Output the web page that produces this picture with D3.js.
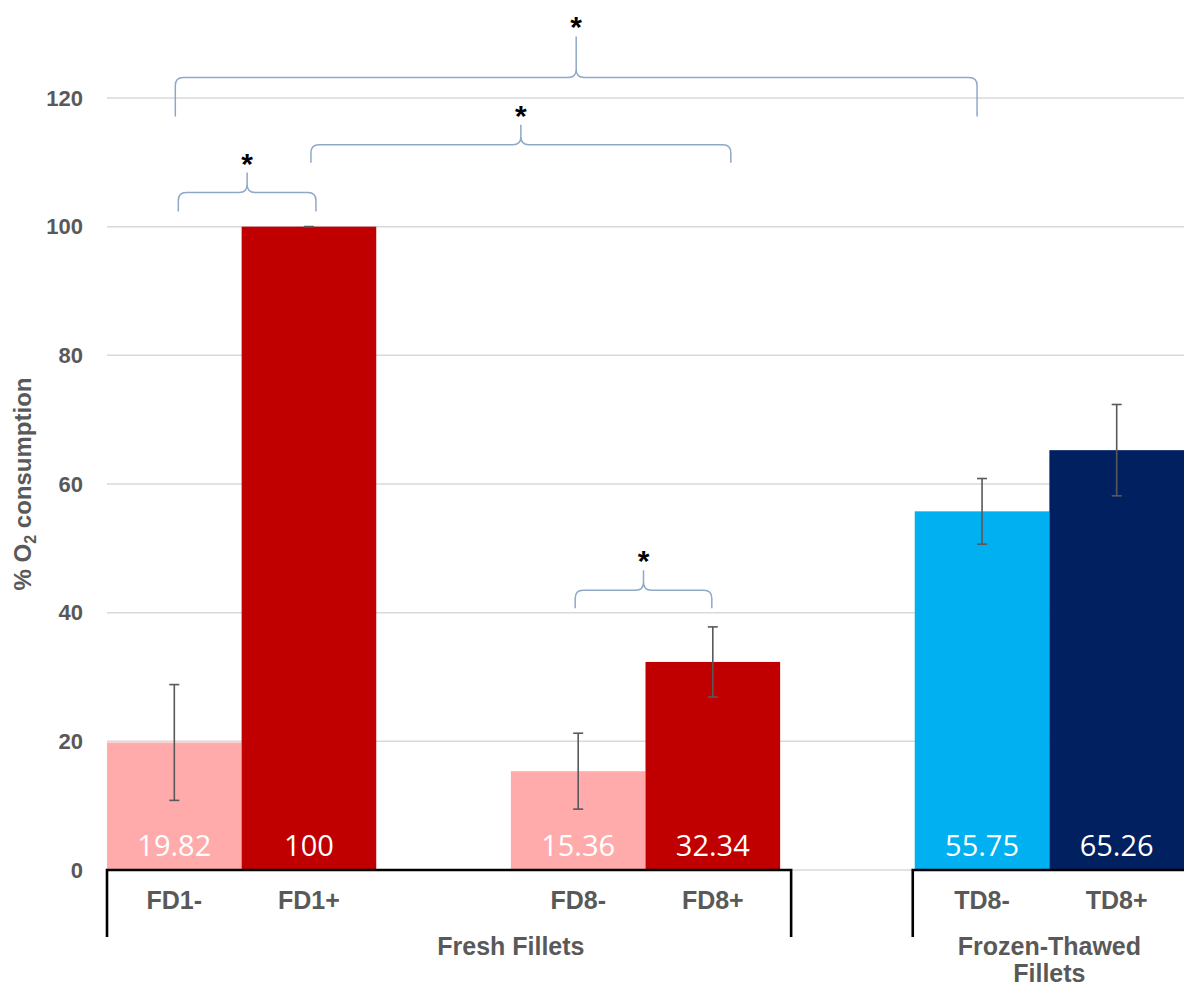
<!DOCTYPE html>
<html>
<head>
<meta charset="utf-8">
<script src="https://cdn.jsdelivr.net/npm/d3@7"></script>
<style>
  html, body { margin: 0; padding: 0; background: #fff; }
  svg { display: block; }
</style>
</head>
<body>
<svg id="chart" width="1184" height="988"></svg>
<script>
// ---- data ----
const slots = ["FD1-", "FD1+", "gapA", "FD8-", "FD8+", "gapB", "TD8-", "TD8+"];
const categories = ["FD1-", "FD1+", "FD8-", "FD8+", "TD8-", "TD8+"];
const values = [19.82, 100, 15.36, 32.34, 55.75, 65.26];
const valueLabels = ["19.82", "100", "15.36", "32.34", "55.75", "65.26"];
const errors = [9.0, 0, 5.9, 5.45, 5.1, 7.1];
const barColors = ["#FFABAB", "#C00000", "#FFABAB", "#C00000", "#00B0F0", "#002060"];
const yTicks = [0, 20, 40, 60, 80, 100, 120];
const groups = [
  { name: ["Fresh Fillets"], first: "FD1-", last: "gapB" },
  { name: ["Frozen-Thawed", "Fillets"], first: "TD8-", last: "TD8+" }
];
// significance braces: level in data units
const braces = [
  { from: "FD1-", to: "FD1+", level: 105.3, dx1: 4, dx2: 7, arm: 19, peak: 20 },
  { from: "FD1+", to: "FD8+", level: 112.75, dx1: 2, dx2: 18, arm: 18, peak: 20 },
  { from: "FD1-", to: "TD8-", level: 123.2, dx1: 1, dx2: -5, arm: 39, peak: 41 },
  { from: "FD8-", to: "FD8+", level: 43.5, dx1: -3, dx2: -1, arm: 18, peak: 20 }
];

// ---- layout ----
const svg = d3.select("#chart");
const x = d3.scaleBand().domain(slots).range([107, 1184]).padding(0);
const y = d3.scaleLinear().domain([0, 120]).range([870, 98]);
const grey = "#595959";
const sans = "Liberation Sans, Arial, sans-serif";

// gridlines
svg.append("g").selectAll("line").data(yTicks).join("line")
  .attr("x1", 107).attr("x2", 1184)
  .attr("y1", d => y(d)).attr("y2", d => y(d))
  .attr("stroke", "#D9D9D9").attr("stroke-width", 1.5);

// y tick labels
svg.append("g").selectAll("text").data(yTicks).join("text")
  .attr("x", 83).attr("y", d => y(d))
  .attr("text-anchor", "end").attr("dominant-baseline", "central")
  .attr("font-family", sans)
  .attr("font-weight", "bold").attr("font-size", 22)
  .attr("fill", grey).text(d => d);

// y title
const yt = svg.append("text")
  .attr("transform", `translate(31, ${y(60)}) rotate(-90)`)
  .attr("text-anchor", "middle")
  .attr("font-family", sans)
  .attr("font-weight", "bold").attr("font-size", 24)
  .attr("fill", grey);
yt.append("tspan").text("% O");
yt.append("tspan").attr("font-size", 16).attr("dy", 5).text("2");
yt.append("tspan").attr("dy", -5).text(" consumption");

// bars
const bars = categories.map((c, i) => ({ c, v: values[i], e: errors[i], col: barColors[i], lab: valueLabels[i] }));
svg.append("g").selectAll("rect").data(bars).join("rect")
  .attr("x", d => x(d.c)).attr("width", x.bandwidth())
  .attr("y", d => y(d.v)).attr("height", d => y(0) - y(d.v))
  .attr("fill", d => d.col);

// error bars
const eg = svg.append("g").attr("stroke", grey).attr("stroke-width", 1.6);
bars.forEach(d => {
  const cx = x(d.c) + x.bandwidth() / 2;
  eg.append("line").attr("x1", cx).attr("x2", cx).attr("y1", y(d.v + d.e)).attr("y2", y(d.v - d.e));
  eg.append("line").attr("x1", cx - 5).attr("x2", cx + 5).attr("y1", y(d.v + d.e)).attr("y2", y(d.v + d.e));
  eg.append("line").attr("x1", cx - 5).attr("x2", cx + 5).attr("y1", y(d.v - d.e)).attr("y2", y(d.v - d.e));
});

// value labels
svg.append("g").selectAll("text").data(bars).join("text")
  .attr("x", d => x(d.c) + x.bandwidth() / 2).attr("y", y(0) - 14)
  .attr("text-anchor", "middle")
  .attr("font-family", "Open Sans, sans-serif").attr("font-size", 29)
  .attr("fill", "#fff").text(d => d.lab);

// x axis with group brackets
const axisG = svg.append("g").attr("stroke", "#000").attr("stroke-width", 2.6).attr("fill", "none");
const freshEnd = x("gapB") + 11;
const frozenStart = x("TD8-") - 2;
axisG.append("path").attr("d", `M${x("FD1-")},937 V${y(0)} H${freshEnd} V937`);
axisG.append("path").attr("d", `M${frozenStart},937 V${y(0)} H1184`);

// category labels
svg.append("g").selectAll("text").data(categories).join("text")
  .attr("x", d => x(d) + x.bandwidth() / 2).attr("y", 909)
  .attr("text-anchor", "middle")
  .attr("font-family", sans)
  .attr("font-weight", "bold").attr("font-size", 25)
  .attr("fill", grey).text(d => d);

// group labels
groups.forEach(g => {
  const cx = (x(g.first) + x(g.last) + x.bandwidth()) / 2;
  g.name.forEach((line, i) => {
    svg.append("text").attr("x", cx).attr("y", 955 + i * 27)
      .attr("text-anchor", "middle")
      .attr("font-family", sans)
      .attr("font-weight", "bold").attr("font-size", 25)
      .attr("fill", grey).text(line);
  });
});

// braces
const bg = svg.append("g");
braces.forEach(b => {
  const x1 = x(b.from) + x.bandwidth() / 2 + b.dx1;
  const x2 = x(b.to) + x.bandwidth() / 2 + b.dx2;
  const yh = y(b.level);
  const xm = (x1 + x2) / 2;
  const r = 8;
  const yb = yh + b.arm;
  const yt2 = yh - b.peak;
  const d = `M${x1},${yb} L${x1},${yh + r} Q${x1},${yh} ${x1 + r},${yh} ` +
    `L${xm - r},${yh} Q${xm},${yh} ${xm},${yh - r} L${xm},${yt2} ` +
    `M${xm},${yh - r} Q${xm},${yh} ${xm + r},${yh} L${x2 - r},${yh} ` +
    `Q${x2},${yh} ${x2},${yh + r} L${x2},${yb}`;
  bg.append("path").attr("d", d).attr("fill", "none")
    .attr("stroke", "#8FA8C8").attr("stroke-width", 1.5);
  bg.append("text").attr("x", xm).attr("y", yt2 + 1)
    .attr("text-anchor", "middle")
    .attr("font-family", sans)
    .attr("font-weight", "bold").attr("font-size", 30)
    .attr("fill", "#000").text("*");
});
</script>
</body>
</html>
